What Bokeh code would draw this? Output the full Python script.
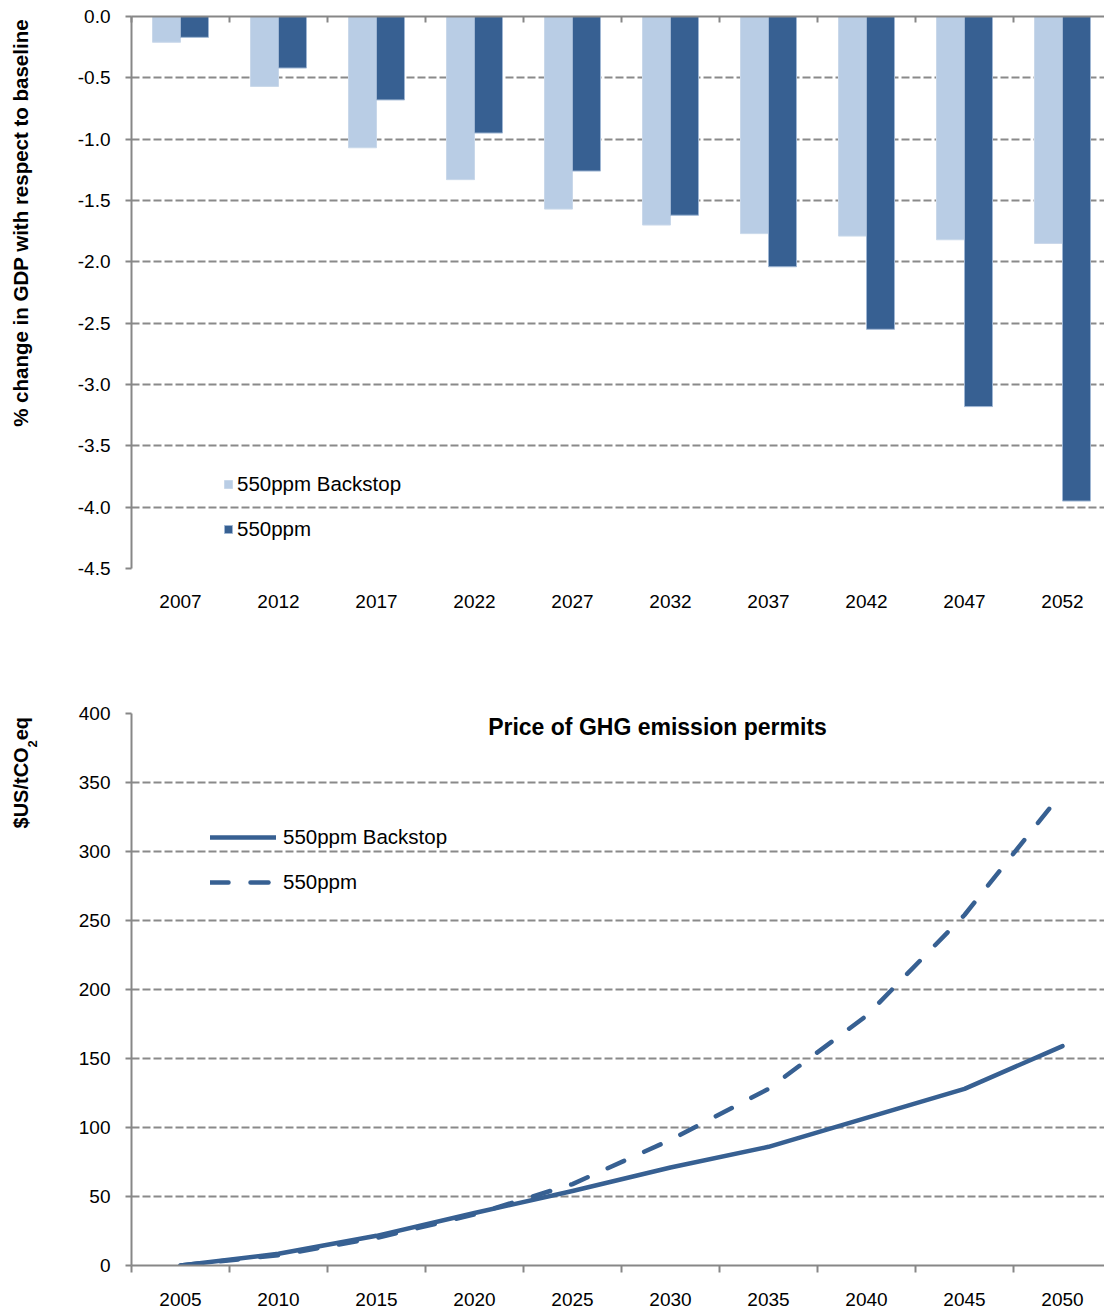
import math
from bokeh.plotting import figure
from bokeh.models import (Range1d, FixedTicker, LinearAxis, Label, Legend, LegendItem,
                          PrintfTickFormatter)
from bokeh.layouts import column, row
from bokeh.embed import file_html
from bokeh.resources import INLINE

# ---------------- data ----------------
gdp_years = ["2007", "2012", "2017", "2022", "2027", "2032", "2037", "2042", "2047", "2052"]
gdp_backstop = [-0.21, -0.57, -1.07, -1.33, -1.57, -1.70, -1.77, -1.79, -1.82, -1.85]
gdp_550 = [-0.17, -0.42, -0.68, -0.95, -1.26, -1.62, -2.04, -2.55, -3.18, -3.95]
gdp_ticks = [0.0, -0.5, -1.0, -1.5, -2.0, -2.5, -3.0, -3.5, -4.0, -4.5]

price_years = ["2005", "2010", "2015", "2020", "2025", "2030", "2035", "2040", "2045", "2050"]
price_backstop = [0, 8.5, 21.5, 38, 54, 71, 86, 107, 128, 159]
price_550 = [0, 7.5, 20, 37, 59, 91, 128, 181, 254, 343]
price_ticks = [0, 50, 100, 150, 200, 250, 300, 350, 400]

series_names = ["550ppm Backstop", "550ppm"]
gdp_ylabel = "% change in GDP with respect to baseline"
price_title = "Price of GHG emission permits"
price_ylabel = ["$US/tCO", "2", "eq"]

# ---------------- style ----------------
FONT = "Liberation Sans"
AXIS = "#878787"
GRID = "#8a8a8a"
LIGHT = "#B9CDE5"
DARK = "#376092"
TOTAL_W = 1104
LW = 50                      # width of the strip holding the rotated y titles
W = TOTAL_W - LW
FRAME_LEFT = 131 - LW
CAT_PX = 98.0
X_END = (W - FRAME_LEFT) / CAT_PX
TICK_FS = "19px"


def centers(n):
    return [i + 0.5 for i in range(n)]


def bounds(n):
    return [float(i) for i in range(n + 1)]


def make_fig(height, top, bottom, y_range):
    p = figure(width=W, height=height, x_range=Range1d(0, X_END), y_range=y_range,
               output_backend="svg", toolbar_location=None,
               min_border_left=FRAME_LEFT, min_border_right=0,
               min_border_top=top, min_border_bottom=bottom)
    p.outline_line_color = None
    p.background_fill_color = "white"
    p.border_fill_color = "white"
    p.xgrid.visible = False
    return p


def make_strip(height, top, bottom, y_range):
    s = figure(width=LW, height=height, x_range=Range1d(0, LW), y_range=y_range,
               output_backend="svg", toolbar_location=None,
               x_axis_type=None, y_axis_type=None,
               min_border_left=0, min_border_right=0,
               min_border_top=top, min_border_bottom=bottom)
    s.outline_line_color = None
    s.background_fill_color = "white"
    s.border_fill_color = "white"
    s.grid.visible = False
    return s


def style_yaxis(p, ticks, fmt):
    ax = p.left[0]
    ax.ticker = FixedTicker(ticks=ticks)
    ax.formatter = PrintfTickFormatter(format=fmt)
    ax.axis_line_color = AXIS
    ax.axis_line_width = 2
    ax.major_tick_line_color = AXIS
    ax.major_tick_line_width = 2
    ax.major_tick_in = 0
    ax.major_tick_out = 6
    ax.minor_tick_line_color = None
    ax.major_label_text_font = FONT
    ax.major_label_text_font_size = TICK_FS
    ax.major_label_text_color = "black"
    ax.major_label_standoff = 15
    g = p.ygrid[0]
    g.ticker = FixedTicker(ticks=ticks)
    g.grid_line_color = GRID
    g.grid_line_width = 2
    g.grid_line_dash = "8 3"


def style_legend(leg, loc, gw, gh, standoff):
    leg.location = loc
    leg.orientation = "vertical"
    leg.background_fill_alpha = 0
    leg.border_line_color = None
    leg.padding = 0
    leg.margin = 0
    leg.spacing = 21
    leg.glyph_width = gw
    leg.glyph_height = gh
    leg.label_height = 24
    leg.label_standoff = standoff
    leg.label_text_font = FONT
    leg.label_text_font_size = "20.5px"
    leg.label_text_color = "black"


# ================= top chart: GDP =================
H1, T1, B1 = 640, 16, 72
n1 = len(gdp_years)
c1 = centers(n1)
yr1 = Range1d(-4.5, 0)
p1 = make_fig(H1, T1, B1, yr1)
style_yaxis(p1, gdp_ticks, "%.1f")

xb = p1.below[0]
xb.ticker = FixedTicker(ticks=c1)
xb.major_label_overrides = {c: y for c, y in zip(c1, gdp_years)}
xb.axis_line_color = None
xb.major_tick_line_color = None
xb.minor_tick_line_color = None
xb.major_tick_in = 0
xb.major_tick_out = 0
xb.major_label_text_font = FONT
xb.major_label_text_font_size = TICK_FS
xb.major_label_text_color = "black"
xb.major_label_standoff = 26

xtop = LinearAxis(ticker=FixedTicker(ticks=[], minor_ticks=bounds(n1)),
                  axis_line_color=AXIS, axis_line_width=2,
                  major_tick_line_color=None, major_tick_in=0, major_tick_out=0,
                  minor_tick_line_color=AXIS, minor_tick_line_width=2,
                  minor_tick_in=6, minor_tick_out=0,
                  major_label_standoff=0)
p1.add_layout(xtop, "above")

bw = 28 / CAT_PX
r_light = p1.vbar(x=[c - bw / 2 for c in c1], width=bw, top=0, bottom=gdp_backstop,
                  fill_color=LIGHT, line_color="#c9d8ea", line_width=1)
r_dark = p1.vbar(x=[c + bw / 2 for c in c1], width=bw, top=0, bottom=gdp_550,
                 fill_color=DARK, line_color="#9fb6d3", line_width=1)

leg1 = Legend(items=[LegendItem(label=series_names[0], renderers=[r_light]),
                     LegendItem(label=series_names[1], renderers=[r_dark])])
style_legend(leg1, (92, 27), 10, 10, 4)
p1.add_layout(leg1)

s1 = make_strip(H1, T1, B1, yr1)
s1.add_layout(Label(x=20, y=-1.683, text=gdp_ylabel,
                    angle=math.pi / 2, text_align="center", text_baseline="alphabetic",
                    text_font=FONT, text_font_size="20.5px", text_font_style="bold",
                    text_color="black"))

# ================= bottom chart: permit price =================
H2, T2, B2 = 670, 73, 45
n2 = len(price_years)
c2 = centers(n2)
yr2 = Range1d(0, 400)
p2 = make_fig(H2, T2, B2, yr2)
style_yaxis(p2, price_ticks, "%d")

xa = p2.below[0]
xa.ticker = FixedTicker(ticks=c2, minor_ticks=bounds(n2))
xa.major_label_overrides = {c: y for c, y in zip(c2, price_years)}
xa.axis_line_color = AXIS
xa.axis_line_width = 2
xa.major_tick_line_color = None
xa.major_tick_in = 0
xa.major_tick_out = 0
xa.minor_tick_line_color = AXIS
xa.minor_tick_line_width = 2
xa.minor_tick_in = 0
xa.minor_tick_out = 7
xa.major_label_text_font = FONT
xa.major_label_text_font_size = TICK_FS
xa.major_label_text_color = "black"
xa.major_label_standoff = 20

r_dash = p2.line(x=c2, y=price_550, line_color=DARK, line_width=4.5, line_dash="18 22",
                 line_cap="round", line_join="round")
r_solid = p2.line(x=c2, y=price_backstop, line_color=DARK, line_width=4.5,
                  line_cap="round", line_join="round")

leg2 = Legend(items=[LegendItem(label=series_names[0], renderers=[r_solid]),
                     LegendItem(label=series_names[1], renderers=[r_dash])])
style_legend(leg2, (79, 371), 66, 24, 7)
p2.add_layout(leg2)

p2.add_layout(Label(x=(657 - 131) / CAT_PX, y=390, text=price_title,
                    text_align="center", text_baseline="alphabetic",
                    text_font=FONT, text_font_size="23px", text_font_style="bold",
                    text_color="black"))

s2 = make_strip(H2, T2, B2, yr2)
s2.add_layout(Label(x=20, y=316.7, text=price_ylabel[0], angle=math.pi / 2,
                    text_align="left", text_baseline="alphabetic",
                    text_font=FONT, text_font_size="20px", text_font_style="bold",
                    text_color="black"))
s2.add_layout(Label(x=32, y=375.4, text=price_ylabel[1], angle=math.pi / 2,
                    text_align="left", text_baseline="alphabetic",
                    text_font=FONT, text_font_size="13px", text_font_style="bold",
                    text_color="black"))
s2.add_layout(Label(x=20, y=380.6, text=price_ylabel[2], angle=math.pi / 2,
                    text_align="left", text_baseline="alphabetic",
                    text_font=FONT, text_font_size="20px", text_font_style="bold",
                    text_color="black"))

layout = column(row(s1, p1, spacing=0), row(s2, p2, spacing=0), spacing=0)
open("out.html", "w").write(file_html(layout, INLINE))
